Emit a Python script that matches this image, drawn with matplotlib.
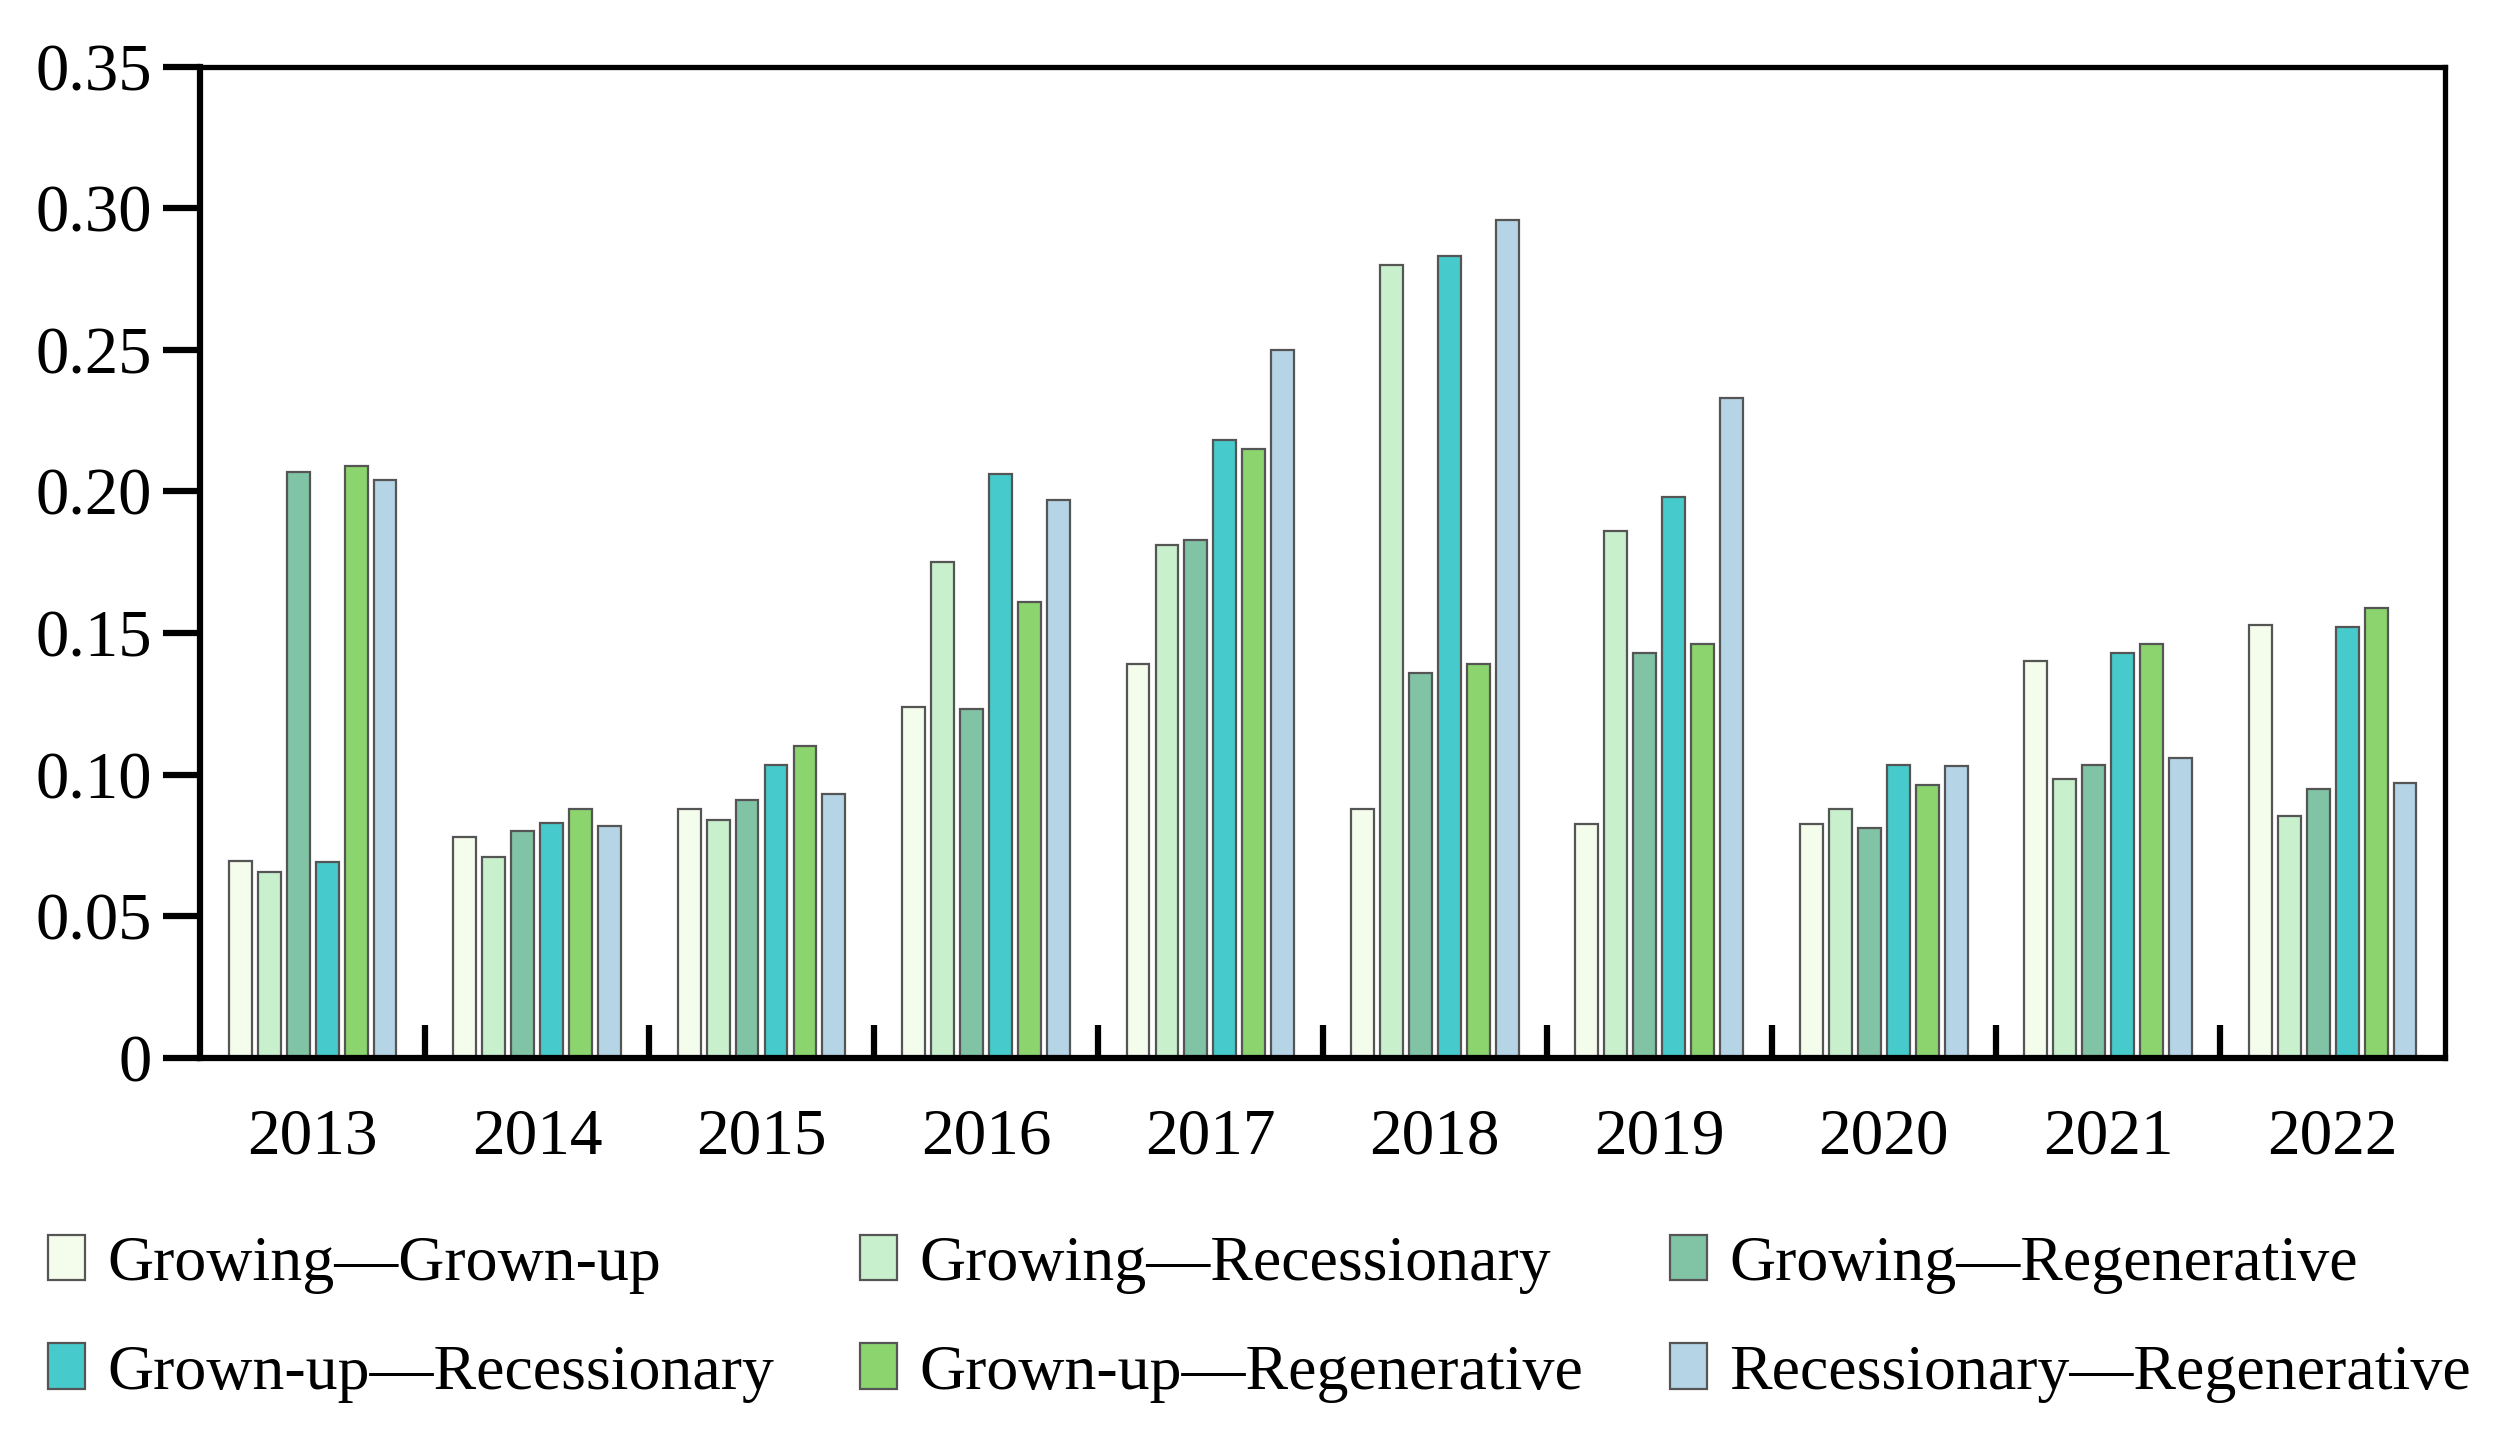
import matplotlib
matplotlib.use("Agg")
import matplotlib.pyplot as plt
import numpy as np

years = ["2013", "2014", "2015", "2016", "2017", "2018", "2019", "2020", "2021", "2022"]
series_names = ["Growing\u2014Grown-up", "Growing\u2014Recessionary", "Growing\u2014Regenerative",
                "Grown-up\u2014Recessionary", "Grown-up\u2014Regenerative", "Recessionary\u2014Regenerative"]

growing_grownup = [0.0695, 0.078, 0.088, 0.124, 0.139, 0.088, 0.0825, 0.0825, 0.140, 0.153]
growing_recessionary = [0.0656, 0.071, 0.084, 0.175, 0.181, 0.280, 0.186, 0.088, 0.0985, 0.0855]
growing_regenerative = [0.207, 0.080, 0.091, 0.123, 0.183, 0.136, 0.143, 0.081, 0.1035, 0.095]
grownup_recessionary = [0.069, 0.083, 0.1035, 0.206, 0.218, 0.283, 0.198, 0.1035, 0.143, 0.152]
grownup_regenerative = [0.209, 0.088, 0.110, 0.161, 0.215, 0.139, 0.146, 0.0965, 0.146, 0.159]
recessionary_regenerative = [0.204, 0.082, 0.093, 0.197, 0.250, 0.296, 0.233, 0.103, 0.106, 0.097]

series = [growing_grownup, growing_recessionary, growing_regenerative,
          grownup_recessionary, grownup_regenerative, recessionary_regenerative]
colors = ["#F4FCEC", "#C8F0CC", "#80C3A5", "#47CACB", "#8CD46E", "#B5D4E6"]

yticks = [0, 0.05, 0.10, 0.15, 0.20, 0.25, 0.30, 0.35]
ytick_labels = ["0", "0.05", "0.10", "0.15", "0.20", "0.25", "0.30", "0.35"]

plt.rcParams['font.family'] = ['Liberation Serif', 'DejaVu Serif']

fig = plt.figure(figsize=(25.05, 14.49), dpi=100)
ax = fig.add_axes([0.080, 0.270, 0.896, 0.684])

x = np.arange(len(years))
spacing = 0.129
width = 0.102
handles = []
for k, (vals, col) in enumerate(zip(series, colors)):
    b = ax.bar(x + (k - 2.5) * spacing, vals, width=width, color=col,
               edgecolor="#555555", linewidth=1.6, label=series_names[k], zorder=2)
    handles.append(b)

ax.set_xlim(-0.5, len(years) - 0.5)
ax.set_ylim(0, 0.35)
ax.set_yticks(yticks)
ax.set_yticklabels(ytick_labels, fontsize=48)
ax.set_xticks(x)
ax.set_xticklabels(years, fontsize=47)
ax.set_xticks(np.arange(0.5, len(years) - 0.5, 1), minor=True)
ax.tick_params(axis='x', which='major', length=0, pad=36)
ax.tick_params(axis='x', which='minor', direction='in', length=24, width=4.5)
ax.tick_params(axis='y', which='major', direction='out', length=27, width=4.5, pad=8)
for sp in ax.spines.values():
    sp.set_linewidth(3.8)
ax.spines['left'].set_linewidth(4.5)
ax.spines['bottom'].set_linewidth(4.5)

order = [0, 3, 1, 4, 2, 5]
fig.legend([handles[i] for i in order], [series_names[i] for i in order],
           ncol=3, loc='upper left', bbox_to_anchor=(0.019, 0.148), frameon=False,
           fontsize=46, handlelength=0.58, handleheight=0.72, handletextpad=0.35,
           columnspacing=1.35, labelspacing=0.78, borderpad=0, borderaxespad=0)

fig.savefig("out.png", dpi=100)
